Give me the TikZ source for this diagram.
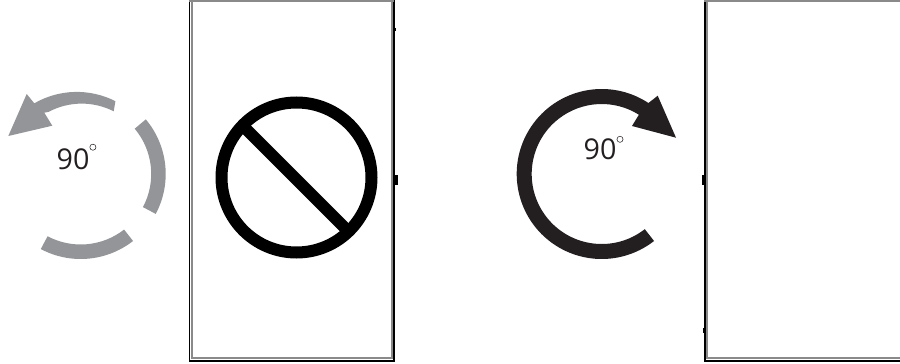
\documentclass[tikz,border=0pt]{standalone}
\usepackage{fontspec}
\setmainfont{Open Sans}
\definecolor{arrowgrey}{HTML}{939598}
\definecolor{arrowdark}{HTML}{231F20}
\definecolor{framegrey}{HTML}{8A8A8A}
\tikzset{
  px/.style={x=0.75pt,y=-0.75pt},
  deg/.style={inner sep=0pt,anchor=center,font=\fontsize{21.5pt}{24pt}\selectfont},
  degring/.style={draw=#1,line width=0.4pt},
  outerline/.style={draw=black,line width=1.05pt},
  innerline/.style={draw=framegrey,line width=1.4pt},
}
\begin{document}
\begin{tikzpicture}[px]
\useasboundingbox (0,0) rectangle (900,364);
% left frame
\draw[outerline] (189.5,0) -- (189.5,361) -- (393.8,361) -- (393.8,0);
\draw[innerline] (191.7,-1) -- (191.7,358.2) -- (392,358.2) -- (392,-1);
\draw[innerline] (189,1) -- (394,1);
\fill[black] (394,27.5) rectangle (395.6,31);
\fill[black] (394,175) rectangle (397.5,185);
% right frame
\draw[outerline] (704.8,0) -- (704.8,361) -- (901,361);
\draw[innerline] (707.2,-1) -- (707.2,358.2) -- (901,358.2);
\draw[innerline] (704,1) -- (901,1);
\fill[black] (702.3,175) rectangle (704.5,185);
\fill[black] (703,328) rectangle (704.5,333);
% prohibition sign
\draw[black,line width=9pt] (296.5,177.5) circle [radius=56.25pt];
\draw[black,line width=9pt,line cap=butt] (244,127) -- (350,233);
% grey arrow
\fill[arrowgrey] (34.3,103.3) arc [start angle=120,end angle=63,x radius=85,y radius=-85]
  -- (113.7,111.3) arc [start angle=63,end angle=118,x radius=70.5,y radius=-70.5] -- (44.3,112.7)
  -- (52.3,125.7) -- (8.3,136) -- (26.7,94) -- cycle;
\fill[arrowgrey] (80.7,174) ++(40:70.5 and -70.5) arc [start angle=40,end angle=-28,x radius=70.5,y radius=-70.5]
  -- ++(-28:14.5 and -14.5) arc [start angle=-28,end angle=40,x radius=85,y radius=-85] -- cycle;
\fill[arrowgrey] (80.7,174) ++(-52:70.5 and -70.5) arc [start angle=-52,end angle=-118,x radius=70.5,y radius=-70.5]
  -- ++(-118:14.5 and -14.5) arc [start angle=-118,end angle=-52,x radius=85,y radius=-85] -- cycle;
\node[deg,text=arrowdark] (leftlabel) at (73,159.5) {90};
\draw[degring=arrowdark] (92.9,147.2) circle [radius=2.3pt];
% dark arrow
\fill[arrowdark] (601.7,174) ++(56.6:85 and -85) arc [start angle=56.6,end angle=308,x radius=85,y radius=-85]
  -- ++(308:-15 and 15) arc [start angle=308,end angle=57.9,x radius=70,y radius=-70]
  -- (632,126) -- (676,137.7) -- (657.7,95.7) -- cycle;
\node[deg,text=arrowdark] (rightlabel) at (600,149.5) {90};
\draw[degring=arrowdark] (620,139.3) circle [radius=2.3pt];
\end{tikzpicture}
\end{document}
